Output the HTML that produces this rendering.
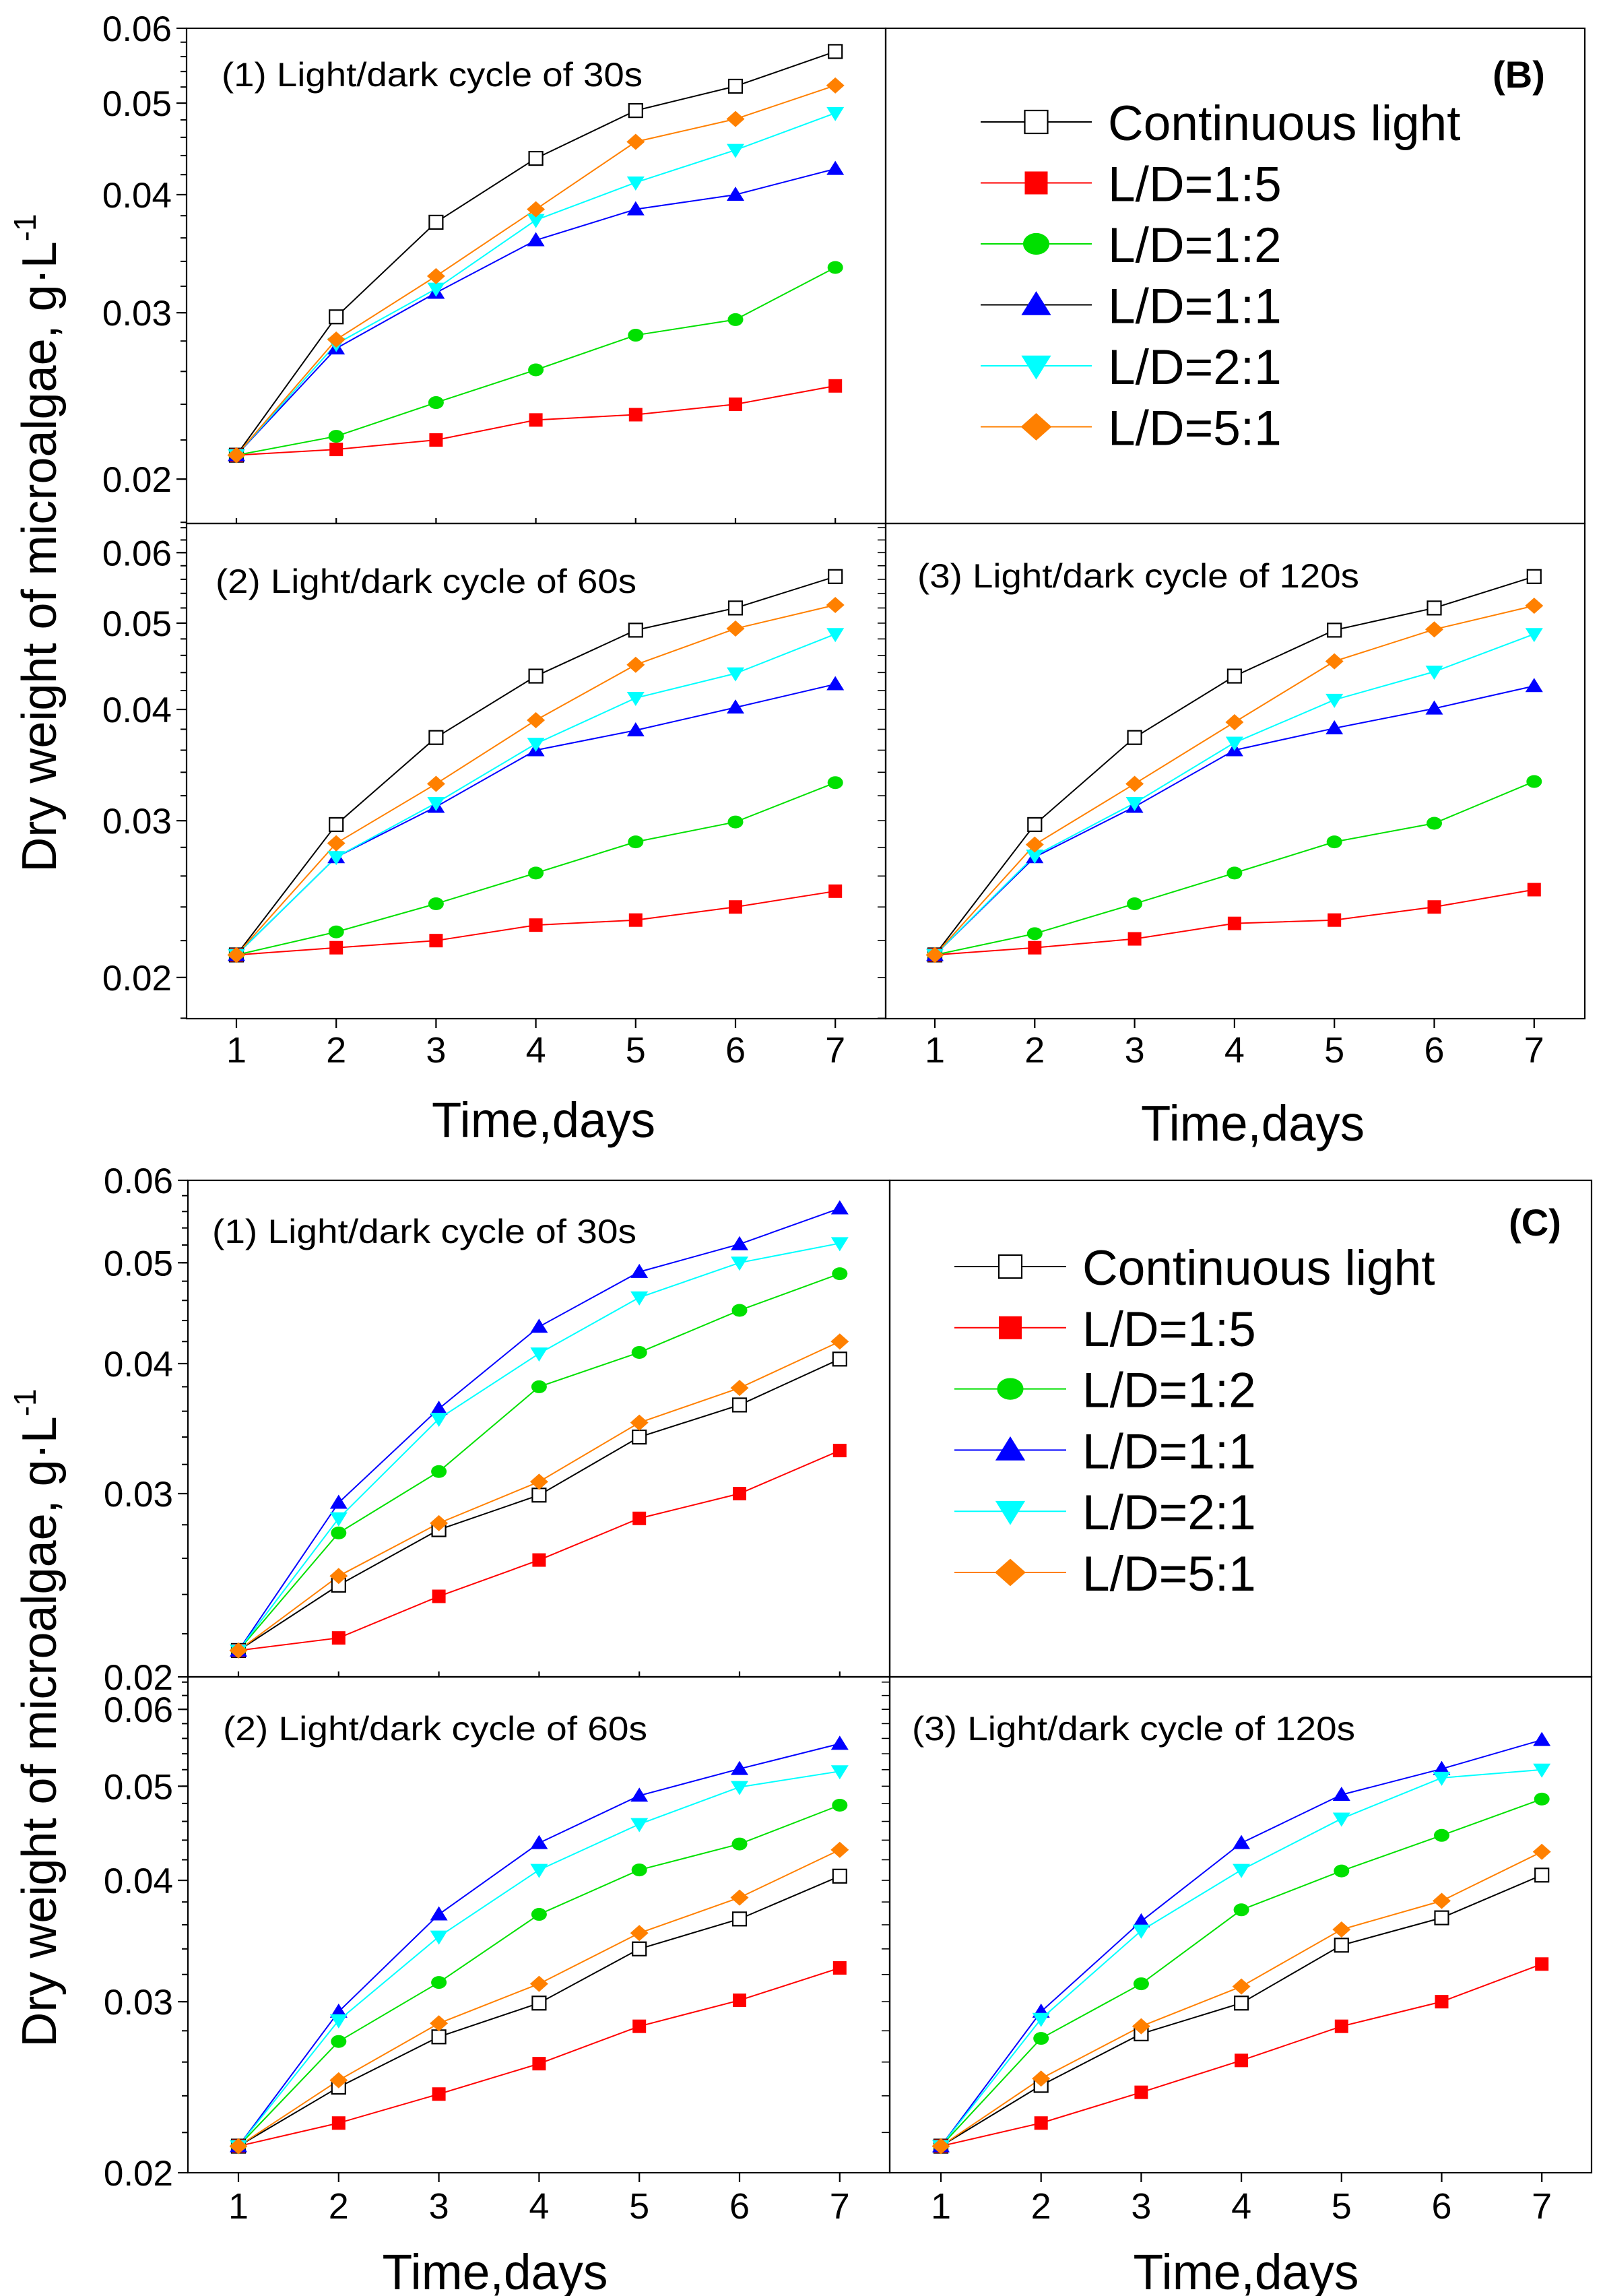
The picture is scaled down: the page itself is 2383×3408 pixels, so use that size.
<!DOCTYPE html>
<html><head><meta charset="utf-8"><style>
html,body{margin:0;padding:0;background:#fff}
svg{display:block}
text{font-family:"Liberation Sans",Arial,sans-serif;fill:#000}
</style></head><body>
<svg id="chart" width="2383" height="3408" viewBox="0 0 2383 3408" xmlns="http://www.w3.org/2000/svg">
<rect x="0" y="0" width="2383" height="3408" fill="#fff"/>
</svg>
<script>
// ---- data ----
const days = [1,2,3,4,5,6,7];
const seriesNames = ["Continuous light","L/D=1:5","L/D=1:2","L/D=1:1","L/D=2:1","L/D=5:1"];
const yTickValues = [0.02,0.03,0.04,0.05,0.06];
const yTickLabels = ["0.02","0.03","0.04","0.05","0.06"];
const panelTitles = ["(1) Light/dark cycle of 30s","(2) Light/dark cycle of 60s","(3) Light/dark cycle of 120s"];

// Figure B
const bP1_CL  = [0.0212,0.0297,0.0374,0.0437,0.0491,0.0521,0.0567];
const bP1_L15 = [0.0212,0.0215,0.0220,0.0231,0.0234,0.0240,0.0251];
const bP1_L12 = [0.0212,0.0222,0.0241,0.0261,0.0284,0.0295,0.0335];
const bP1_L11 = [0.0212,0.0275,0.0315,0.0358,0.0386,0.0400,0.0426];
const bP1_L21 = [0.0212,0.0278,0.0318,0.0376,0.0412,0.0446,0.0488];
const bP1_L51 = [0.0212,0.0281,0.0328,0.0386,0.0455,0.0481,0.0522];

const bP2_CL  = [0.0212,0.0297,0.0372,0.0436,0.0491,0.0520,0.0564];
const bP2_L15 = [0.0212,0.0216,0.0220,0.0229,0.0232,0.0240,0.0250];
const bP2_L12 = [0.0212,0.0225,0.0242,0.0262,0.0284,0.0299,0.0331];
const bP2_L11 = [0.0212,0.0273,0.0311,0.0360,0.0379,0.0402,0.0427];
const bP2_L21 = [0.0212,0.0273,0.0314,0.0366,0.0412,0.0439,0.0486];
const bP2_L51 = [0.0212,0.0283,0.0330,0.0389,0.0449,0.0493,0.0524];

const bP3_CL  = [0.0212,0.0297,0.0372,0.0436,0.0491,0.0520,0.0564];
const bP3_L15 = [0.0212,0.0216,0.0221,0.0230,0.0232,0.0240,0.0251];
const bP3_L12 = [0.0212,0.0224,0.0242,0.0262,0.0284,0.0298,0.0332];
const bP3_L11 = [0.0212,0.0273,0.0311,0.0360,0.0381,0.0401,0.0425];
const bP3_L21 = [0.0212,0.0274,0.0314,0.0367,0.0410,0.0441,0.0486];
const bP3_L51 = [0.0212,0.0282,0.0330,0.0387,0.0453,0.0492,0.0523];

// Figure C
const cP1_CL  = [0.0212,0.0245,0.0277,0.0299,0.0340,0.0365,0.0404];
const cP1_L15 = [0.0212,0.0218,0.0239,0.0259,0.0284,0.0300,0.0330];
const cP1_L12 = [0.0212,0.0275,0.0315,0.0380,0.0410,0.0450,0.0488];
const cP1_L11 = [0.0212,0.0294,0.0362,0.0434,0.0490,0.0521,0.0564];
const cP1_L21 = [0.0212,0.0284,0.0354,0.0409,0.0463,0.0500,0.0522];
const cP1_L51 = [0.0212,0.0250,0.0281,0.0308,0.0351,0.0379,0.0420];

const cP2_CL  = [0.0213,0.0245,0.0276,0.0299,0.0340,0.0365,0.0404];
const cP2_L15 = [0.0213,0.0225,0.0241,0.0259,0.0283,0.0301,0.0325];
const cP2_L12 = [0.0213,0.0273,0.0314,0.0369,0.0410,0.0436,0.0478];
const cP2_L11 = [0.0213,0.0293,0.0369,0.0437,0.0489,0.0521,0.0553];
const cP2_L21 = [0.0213,0.0287,0.0350,0.0410,0.0457,0.0499,0.0518];
const cP2_L51 = [0.0213,0.0249,0.0285,0.0313,0.0353,0.0384,0.0430];

const cP3_CL  = [0.0213,0.0246,0.0278,0.0299,0.0343,0.0366,0.0405];
const cP3_L15 = [0.0213,0.0225,0.0242,0.0261,0.0283,0.0300,0.0328];
const cP3_L12 = [0.0213,0.0275,0.0313,0.0373,0.0409,0.0445,0.0485];
const cP3_L11 = [0.0213,0.0293,0.0363,0.0437,0.0490,0.0521,0.0558];
const cP3_L21 = [0.0213,0.0288,0.0355,0.0410,0.0463,0.0510,0.0520];
const cP3_L51 = [0.0213,0.0250,0.0283,0.0311,0.0356,0.0381,0.0428];

// ---- layout (pixels / styles) ----
const colors = ["#000000","#ff0000","#00e000","#0000ff","#00ffff","#ff8000"];
const markers = ["square-open","square","circle","triangle-up","triangle-down","diamond"];
const NS = "http://www.w3.org/2000/svg";
const svg = document.getElementById("chart");

function mk(tag, attrs, parent){
  const e = document.createElementNS(NS, tag);
  for (const k in attrs) e.setAttribute(k, attrs[k]);
  (parent||svg).appendChild(e);
  return e;
}

function drawMarker(g, type, cx, cy, s, color){
  let m;
  if (type==="square-open") m = mk("rect",{x:cx-s,y:cy-s,width:2*s,height:2*s,fill:"#fff",stroke:"#000","stroke-width":2.2},g);
  else if (type==="square") m = mk("rect",{x:cx-s,y:cy-s,width:2*s,height:2*s,fill:color},g);
  else if (type==="circle") m = mk("ellipse",{cx:cx,cy:cy,rx:s*1.15,ry:s*0.95,fill:color},g);
  else if (type==="triangle-up") m = mk("polygon",{points:`${cx},${cy-s*1.2} ${cx+s*1.3},${cy+s*0.9} ${cx-s*1.3},${cy+s*0.9}`,fill:color},g);
  else if (type==="triangle-down") m = mk("polygon",{points:`${cx},${cy+s*1.2} ${cx+s*1.3},${cy-s*0.9} ${cx-s*1.3},${cy-s*0.9}`,fill:color},g);
  else m = mk("polygon",{points:`${cx},${cy-s*1.2} ${cx+s*1.35},${cy} ${cx},${cy+s*1.2} ${cx-s*1.35},${cy}`,fill:color},g);
  
  
  return m;
}

function panel(cfg){
  const g = mk("g",{});
  
  
  const L=cfg.x0, R=cfg.x1, T=cfg.y0, B=cfg.y1;
  const lnT=Math.log(cfg.vTop), lnB=Math.log(cfg.vBot);
  const yS = v => B - (Math.log(v)-lnB)/(lnT-lnB)*(B-T);
  const xS = d => cfg.d1 + (d-1)*cfg.step;
  const fr = mk("rect",{x:L,y:T,width:R-L,height:B-T,fill:"none",stroke:"#000","stroke-width":2.2},g);
  
  
  if (cfg.yAxis){
    for (let v=0.018; v<=cfg.vTop+1e-6; v+=0.002){
      const y=yS(v); if (y<T-0.5||y>B+0.5) continue;
      mk("line",{x1:L-9,x2:L,y1:y,y2:y,stroke:"#000","stroke-width":2},g);
    }
    yTickValues.forEach((v,i)=>{
      const y=yS(v); if (y<T-0.5||y>B+0.5) return;
      mk("line",{x1:L-15,x2:L,y1:y,y2:y,stroke:"#000","stroke-width":2.2},g);
      const t=mk("text",{x:L-22,y:y+19,"text-anchor":"end","font-size":53},g);
      t.textContent=yTickLabels[i];
      
      
    });
  }
  if (cfg.inner){
    for (let v=0.018; v<=cfg.vTop+1e-6; v+=0.002){
      const y=yS(v); if (y<T-0.5||y>B+0.5) continue;
      mk("line",{x1:L,x2:L-12,y1:y,y2:y,stroke:"#000","stroke-width":1.6},g);
    }
  }
  days.forEach(d=>{
    const x=xS(d);
    mk("line",{x1:x,x2:x,y1:B,y2:B+(cfg.xLabels?14:-8),stroke:"#000","stroke-width":2.2},g);
    if (cfg.xLabels){
      const t=mk("text",{x:x,y:cfg.xLabelY,"text-anchor":"middle","font-size":54},g);
      t.textContent=String(d);
      
      
    }
  });
  const tt=mk("text",{x:cfg.titleX,y:cfg.titleY,"font-size":50,textLength:cfg.titleW,lengthAdjust:"spacingAndGlyphs"},g);
  tt.textContent=cfg.title;
  
  
  cfg.series.forEach((vals,si)=>{
    const pts = vals.map((v,i)=>`${xS(days[i])},${yS(v)}`).join(" ");
    const pl=mk("polyline",{points:pts,fill:"none",stroke:colors[si],"stroke-width":2},g);
    
    
  });
  cfg.series.forEach((vals,si)=>{
    vals.forEach((v,i)=> drawMarker(g, markers[si], xS(days[i]), yS(v), 10, colors[si]));
  });
}

function legend(cfg){
  const g=mk("g",{});
  
  
  seriesNames.forEach((n,i)=>{
    const y=cfg.y0+i*cfg.dy;
    const lc = (cfg.blackLine11 && i===3) ? "#000" : colors[i];
    mk("line",{x1:cfg.lx0,x2:cfg.lx1,y1:y,y2:y,stroke:lc,"stroke-width":2},g);
    drawMarker(g, markers[i], (cfg.lx0+cfg.lx1)/2, y, 17, colors[i]);
    const t=mk("text",{x:cfg.tx,y:y+27,"font-size":73},g);
    t.textContent=n;
    
    
  });
  const lab=mk("text",{x:cfg.labX,y:cfg.labY,"font-size":56,"font-weight":"bold","text-anchor":"middle"},g);
  lab.textContent=cfg.label;
  
  
}

function text(x,y,s,size,name,extra){
  const t=mk("text",Object.assign({x:x,y:y,"font-size":size},extra||{}));
  t.textContent=s;
  
  
  return t;
}

function yTitle(cx,cy){
  const t=mk("text",{x:0,y:0,"font-size":72,"text-anchor":"middle",transform:`translate(${cx+25},${cy}) rotate(-90)`});
  
  
  t.appendChild(document.createTextNode("Dry weight of microalgae, g\u00B7L"));
  const sp=document.createElementNS(NS,"tspan");
  sp.setAttribute("font-size","46"); sp.setAttribute("dy","-30");
  sp.textContent="-1";
  t.appendChild(sp);
}

// ---- Figure B ----
const boxB=mk("rect",{x:1315,y:42,width:1038,height:735,fill:"none",stroke:"#000","stroke-width":2.2});


panel({name:"panel-b1",x0:277,x1:1315,y0:42,y1:777,vTop:0.06,vBot:0.01795,d1:351,step:148.2,yAxis:true,xLabels:false,
  title:panelTitles[0],titleX:329,titleY:128,titleW:625,
  series:[bP1_CL,bP1_L15,bP1_L12,bP1_L11,bP1_L21,bP1_L51]});
panel({name:"panel-b2",x0:277,x1:1315,y0:777,y1:1512,vTop:0.0647,vBot:0.01798,d1:351,step:148.2,yAxis:true,xLabels:true,xLabelY:1577,
  title:panelTitles[1],titleX:320,titleY:880,titleW:625,
  series:[bP2_CL,bP2_L15,bP2_L12,bP2_L11,bP2_L21,bP2_L51]});
panel({name:"panel-b3",x0:1315,x1:2353,y0:777,y1:1512,vTop:0.0647,vBot:0.01798,d1:1388,step:148.3,yAxis:false,inner:true,xLabels:true,xLabelY:1577,
  title:panelTitles[2],titleX:1362,titleY:872,titleW:656,
  series:[bP3_CL,bP3_L15,bP3_L12,bP3_L11,bP3_L21,bP3_L51]});
legend({y0:181,dy:90.5,lx0:1456,lx1:1621,tx:1645,label:"(B)",labX:2255,labY:130,blackLine11:true});
yTitle(58,806);
text(807,1688,"Time,days",74,"x-axis-title",{"text-anchor":"middle",textLength:332,lengthAdjust:"spacingAndGlyphs"});
text(1860,1693,"Time,days",74,"x-axis-title",{"text-anchor":"middle",textLength:332,lengthAdjust:"spacingAndGlyphs"});

// ---- Figure C ----
const boxC=mk("rect",{x:1321,y:1752,width:1042,height:737,fill:"none",stroke:"#000","stroke-width":2.2});


panel({name:"panel-c1",x0:279,x1:1321,y0:1752,y1:2489,vTop:0.06,vBot:0.02,d1:354,step:148.8,yAxis:true,xLabels:false,
  title:panelTitles[0],titleX:315,titleY:1845,titleW:630,
  series:[cP1_CL,cP1_L15,cP1_L12,cP1_L11,cP1_L21,cP1_L51]});
panel({name:"panel-c2",x0:279,x1:1321,y0:2489,y1:3225,vTop:0.0648,vBot:0.02,d1:354,step:148.8,yAxis:true,xLabels:true,xLabelY:3293,
  title:panelTitles[1],titleX:331,titleY:2583,titleW:630,
  series:[cP2_CL,cP2_L15,cP2_L12,cP2_L11,cP2_L21,cP2_L51]});
panel({name:"panel-c3",x0:1321,x1:2363,y0:2489,y1:3225,vTop:0.0648,vBot:0.02,d1:1397,step:148.7,yAxis:false,inner:true,xLabels:true,xLabelY:3293,
  title:panelTitles[2],titleX:1354,titleY:2583,titleW:658,
  series:[cP3_CL,cP3_L15,cP3_L12,cP3_L11,cP3_L21,cP3_L51]});
legend({y0:1880,dy:90.8,lx0:1417,lx1:1583,tx:1607,label:"(C)",labX:2279,labY:1834,blackLine11:false});
yTitle(58,2550);
text(735,3398,"Time,days",74,"x-axis-title",{"text-anchor":"middle",textLength:335,lengthAdjust:"spacingAndGlyphs"});
text(1850,3398,"Time,days",74,"x-axis-title",{"text-anchor":"middle",textLength:335,lengthAdjust:"spacingAndGlyphs"});
</script>
</body></html>
